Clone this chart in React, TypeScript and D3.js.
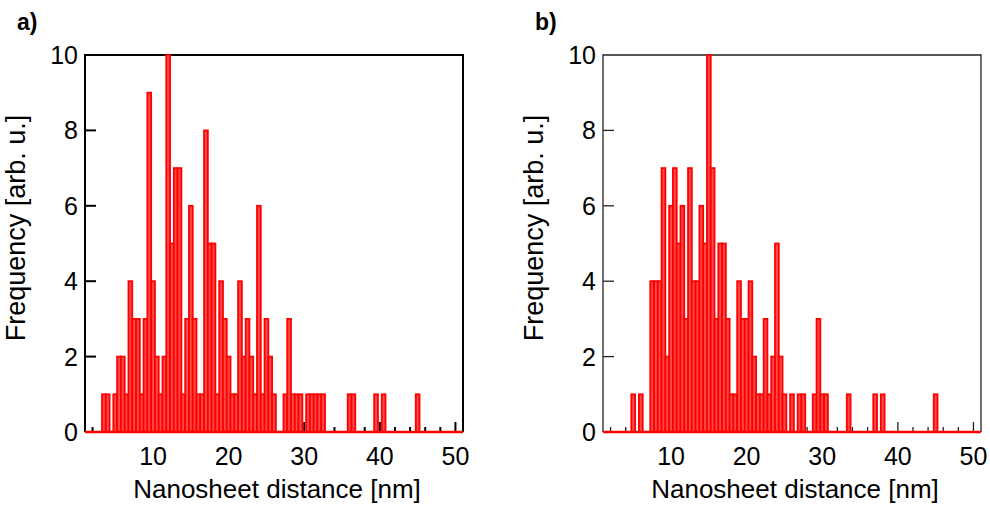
import React from "react";
import * as d3 from "d3";

// Panel a) histogram: bin centres (nm) and counts
const binsA = [3.5, 4, 5, 5.5, 6, 6.5, 7, 7.5, 8, 8.5, 9, 9.5, 10, 10.5, 11, 11.5, 12, 12.5, 13, 13.5, 14, 14.5, 15, 15.5, 16, 16.5, 17, 17.5, 18, 18.5, 19, 19.5, 20, 20.5, 21, 21.5, 22, 22.5, 23, 23.5, 24, 24.5, 25, 25.5, 26, 27.5, 28, 28.5, 29, 29.5, 30.5, 31, 31.5, 32, 32.5, 36, 36.5, 39.5, 40.5, 45];
const countsA = [1, 1, 1, 2, 2, 1, 4, 3, 3, 1, 3, 9, 4, 2, 1, 2, 10, 5, 7, 7, 1, 3, 6, 3, 1, 1, 8, 5, 5, 1, 4, 3, 2, 1, 1, 4, 2, 3, 2, 1, 6, 1, 3, 2, 1, 1, 3, 1, 1, 1, 1, 1, 1, 1, 1, 1, 1, 1, 1, 1];

// Panel b) histogram
const binsB = [5, 6, 7.5, 8, 8.5, 9, 9.5, 10, 10.5, 11, 11.5, 12, 12.5, 13, 13.5, 14, 14.5, 15, 15.5, 16, 16.5, 17, 17.5, 18, 18.5, 19, 19.5, 20, 20.5, 21, 21.5, 22, 22.5, 23, 23.5, 24, 24.5, 25, 26, 27, 27.5, 29, 29.5, 30, 30.5, 33.5, 37, 38, 45];
const countsB = [1, 1, 4, 4, 4, 7, 2, 6, 7, 5, 6, 3, 7, 4, 4, 6, 5, 10, 7, 3, 5, 5, 3, 1, 1, 4, 3, 3, 4, 2, 1, 1, 3, 1, 2, 5, 2, 1, 1, 1, 1, 1, 3, 1, 1, 1, 1, 1, 1];

const binWidth = 0.5;
const xDomain = [1, 51];
const yDomain = [0, 10];
const yTicks = [0, 2, 4, 6, 8, 10];
const xLabelTicks = [10, 20, 30, 40, 50];
const xMinorTicks = d3.range(2, 51, 2);

const FONT = "'Liberation Sans', Arial, Helvetica, sans-serif";

type PanelProps = {
  left: number;
  label: string;
  bins: number[];
  counts: number[];
  frameColor: string;
  frameWidth: number;
};

function Panel({ left, label, bins, counts, frameColor, frameWidth }: PanelProps) {
  const top = 55;
  const bottom = 432;
  const width = 378;
  const x = d3.scaleLinear().domain(xDomain).range([left, left + width]);
  const y = d3.scaleLinear().domain(yDomain).range([bottom, top]);
  const data = bins.map((b, i) => ({ b, c: counts[i] }));

  return (
    <g>
      {/* panel letter */}
      <text x={left - 68} y={30} fontFamily={FONT} fontWeight="bold" fontSize={23} fill="#000">
        {label}
      </text>

      {/* x ticks (behind the bars) */}
      {xMinorTicks.map((t) => (
        <line
          key={"xt" + t}
          x1={x(t)}
          x2={x(t)}
          y1={bottom}
          y2={bottom - (t % 10 === 0 ? 10 : 5)}
          stroke={frameColor}
          strokeWidth={frameWidth}
        />
      ))}

      {/* y ticks */}
      {yTicks
        .filter((t) => t > 0 && t < 10)
        .map((t) => (
          <line
            key={"yt" + t}
            x1={left}
            x2={left + 11}
            y1={y(t)}
            y2={y(t)}
            stroke={frameColor}
            strokeWidth={frameWidth}
          />
        ))}

      {/* frame */}
      <path
        d={`M${left},${bottom} L${left},${top} L${left + width},${top} L${left + width},${bottom}`}
        fill="none"
        stroke={frameColor}
        strokeWidth={frameWidth}
      />
      <line x1={left} x2={left + width} y1={bottom} y2={bottom} stroke="#000" strokeWidth={1.5} />

      {/* bars */}
      {data.map((d) => (
        <rect
          key={"bar" + d.b}
          x={x(d.b - binWidth / 2)}
          width={x(d.b + binWidth / 2) - x(d.b - binWidth / 2)}
          y={y(d.c)}
          height={y(0) - y(d.c)}
          fill="#ff4a4a"
          stroke="#ff0000"
          strokeWidth={1.8}
        />
      ))}

      {/* red baseline of the histogram */}
      <line x1={left} x2={left + width} y1={bottom} y2={bottom} stroke="#ff0000" strokeWidth={2.5} />

      {/* y tick labels */}
      {yTicks.map((t) => (
        <text
          key={"yl" + t}
          x={left - 7}
          y={y(t)}
          dy="0.36em"
          textAnchor="end"
          fontFamily={FONT}
          fontSize={25}
          fill="#000"
        >
          {t}
        </text>
      ))}

      {/* x tick labels */}
      {xLabelTicks.map((t) => (
        <text
          key={"xl" + t}
          x={x(t)}
          y={465}
          textAnchor="middle"
          fontFamily={FONT}
          fontSize={25}
          fill="#000"
        >
          {t}
        </text>
      ))}

      {/* axis titles */}
      <text
        x={left + width / 2 + 3}
        y={498}
        textAnchor="middle"
        fontFamily={FONT}
        fontSize={26}
        fill="#000"
      >
        Nanosheet distance [nm]
      </text>
      <text
        transform={`translate(${left - 60},${228}) rotate(-90)`}
        textAnchor="middle"
        fontFamily={FONT}
        fontSize={27}
        fill="#000"
      >
        Frequency [arb. u.]
      </text>
    </g>
  );
}

export default function App() {
  return (
    <div style={{ position: "absolute", left: 0, top: 0 }}>
      <svg width={990} height={506} style={{ display: "block", background: "#fff" }}>
        <rect x={0} y={0} width={990} height={506} fill="#fff" />
        <Panel left={85} label="a)" bins={binsA} counts={countsA} frameColor="#000" frameWidth={2} />
        <Panel left={603} label="b)" bins={binsB} counts={countsB} frameColor="#222" frameWidth={1.3} />
      </svg>
    </div>
  );
}
